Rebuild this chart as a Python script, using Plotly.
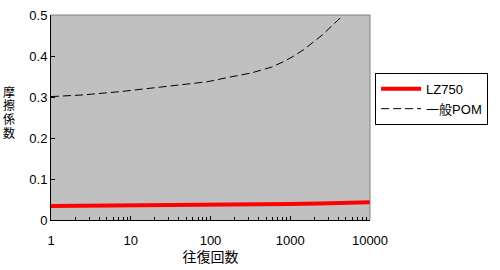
import plotly.graph_objects as go

lz_x = [1, 10, 24, 76, 300, 1000, 2350, 4150, 10000]
lz_y = [0.034, 0.035, 0.0355, 0.037, 0.038, 0.039, 0.0405, 0.042, 0.043]

pom_x = [1, 2.5, 7.3, 17, 45, 90, 160, 330, 585, 820, 1090, 1460, 1950, 2550, 3300, 4200, 4650]
pom_y = [0.301, 0.305, 0.313, 0.321, 0.329, 0.337, 0.347, 0.359, 0.373, 0.386, 0.399, 0.415, 0.434, 0.452, 0.473, 0.491, 0.50]

x_ticks = [1, 10, 100, 1000, 10000]
x_tick_labels = ["1", "10", "100", "1000", "10000"]
y_ticks = [0, 0.1, 0.2, 0.3, 0.4, 0.5]
y_tick_labels = ["0", "0.1", "0.2", "0.3", "0.4", "0.5"]
y_title_chars = ["摩", "擦", "係", "数"]

minor_vals = [m * 10 ** k for k in range(4) for m in range(2, 10)]

FONT = "Liberation Sans, Noto Sans CJK JP, sans-serif"

fig = go.Figure()
fig.add_trace(go.Scatter(x=lz_x, y=lz_y, mode="lines", name="LZ750",
                         line=dict(color="#FF0000", width=4)))
fig.add_trace(go.Scatter(x=pom_x, y=pom_y, mode="lines", name="一般POM",
                         line=dict(color="#000000", width=1, dash="8px,4px")))

fig.update_layout(
    width=500, height=270,
    margin=dict(l=51, r=130, t=8, b=49),
    paper_bgcolor="white",
    plot_bgcolor="#C0C0C0",
    font=dict(family=FONT, size=13, color="black"),
    showlegend=True,
    legend=dict(x=1.016, y=0.718, xanchor="left", yanchor="top",
                bgcolor="white", bordercolor="black", borderwidth=1,
                font=dict(family=FONT, size=13), tracegroupgap=0,
                itemwidth=40),
    xaxis=dict(type="log", range=[0, 4], tickvals=x_ticks, ticktext=x_tick_labels,
               ticks="inside", ticklen=4, tickcolor="black",
               showline=True, linecolor="black", linewidth=1,
               showgrid=False, zeroline=False, ticklabelstandoff=8,
               minor=dict(tickvals=minor_vals, ticks="inside", ticklen=3, tickcolor="black", showgrid=False),
               title=dict(text="往復回数", font=dict(family=FONT, size=14), standoff=5)),
    yaxis=dict(range=[0, 0.5], tickvals=y_ticks, ticktext=y_tick_labels,
               ticks="inside", ticklen=4, tickcolor="black",
               showline=True, linecolor="black", linewidth=1,
               showgrid=False, zeroline=False),
)

fig.add_shape(type="line", xref="paper", yref="paper", x0=0, x1=1, y0=1, y1=1,
              line=dict(color="#808080", width=1))
fig.add_shape(type="line", xref="paper", yref="paper", x0=1, x1=1, y0=0, y1=1,
              line=dict(color="#808080", width=1))

# vertical stacked y-axis title, one character per row
for i, ch in enumerate(y_title_chars):
    py = 89 + 14 * i
    fig.add_annotation(text=ch, xref="paper", yref="paper",
                       x=(9 - 51) / 319, y=(221 - py) / 213,
                       xanchor="center", yanchor="middle",
                       showarrow=False, font=dict(family=FONT, size=12),
                       borderpad=0)

fig.write_html("out.html")
